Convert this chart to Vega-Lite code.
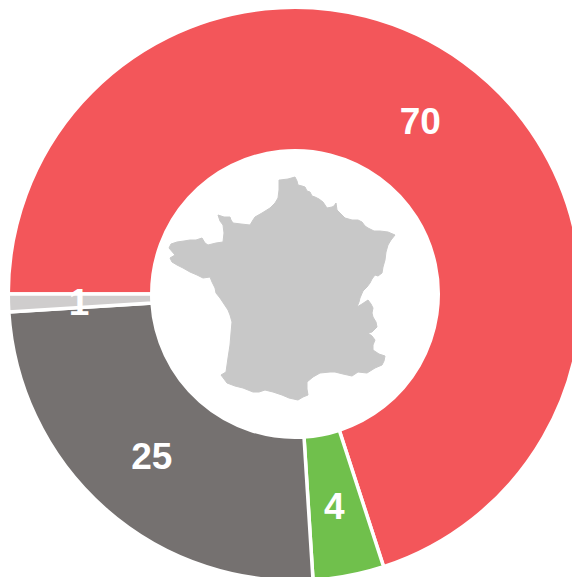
{"$schema":"https://vega.github.io/schema/vega-lite/v6.json","width":572,"height":577,"padding":0,"autosize":"none","background":"white","view":{"stroke":null},
"layer":[
{"data":{"name":"slices","values":[{"party":"Rouge","value":70,"rank":1},{"party":"Vert","value":4,"rank":2},{"party":"Gris","value":25,"rank":3},{"party":"Autre","value":1,"rank":4}]},
"layer":[
{"mark":{"type":"arc","radius":286.75,"radius2":143.25,"stroke":"white","strokeWidth":3.5},
"encoding":{"x":{"datum":295,"type":"quantitative","scale":{"domain":[0,572],"range":[0,572]},"axis":null},"y":{"datum":294,"type":"quantitative","scale":{"domain":[0,577],"range":[0,577]},"axis":null},
"theta":{"field":"value","type":"quantitative","stack":true,"scale":{"domain":[0,100],"range":[4.71239,10.99557]}},
"order":{"field":"rank","type":"ordinal"},
"color":{"field":"party","type":"nominal","legend":null,"scale":{"domain":["Rouge","Vert","Gris","Autre"],"range":["#F3565A","#70C04C","#757170","#CFCDCD"]}}}},
{"mark":{"type":"text","radius":215,"dx":-1,"dy":3,"font":"Liberation Sans","fontWeight":"bold","fontSize":37,"fill":"white","align":"center","baseline":"middle"},
"encoding":{"x":{"datum":295,"type":"quantitative","scale":{"domain":[0,572],"range":[0,572]},"axis":null},"y":{"datum":294,"type":"quantitative","scale":{"domain":[0,577],"range":[0,577]},"axis":null},
"theta":{"field":"value","type":"quantitative","stack":true,"scale":{"domain":[0,100],"range":[4.71239,10.99557]}},
"order":{"field":"rank","type":"ordinal"},
"text":{"field":"value","type":"quantitative"}}}
]},
{"data":{"name":"france","values":[
{"i":1,"px":280,"py":180},{"i":2,"px":288,"py":179},{"i":3,"px":295,"py":177},{"i":4,"px":297,"py":181},{"i":5,"px":298,"py":185},{"i":6,"px":302,"py":186},{"i":7,"px":305,"py":187},{"i":8,"px":307,"py":191},{"i":9,"px":310,"py":192},{"i":10,"px":312,"py":196},{"i":11,"px":315,"py":197},{"i":12,"px":319,"py":199},{"i":13,"px":323,"py":202},{"i":14,"px":325,"py":205},{"i":15,"px":327,"py":208},{"i":16,"px":332,"py":207},{"i":17,"px":334,"py":206},{"i":18,"px":336,"py":203},{"i":19,"px":337,"py":210},{"i":20,"px":341,"py":214},{"i":21,"px":345,"py":218},{"i":22,"px":352,"py":220},{"i":23,"px":358,"py":220},{"i":24,"px":362,"py":222},{"i":25,"px":365,"py":226},{"i":26,"px":368,"py":228},{"i":27,"px":374,"py":231},{"i":28,"px":380,"py":231},{"i":29,"px":388,"py":232},{"i":30,"px":395,"py":235},{"i":31,"px":391,"py":240},{"i":32,"px":388,"py":245},{"i":33,"px":386,"py":252},{"i":34,"px":385,"py":260},{"i":35,"px":383,"py":267},{"i":36,"px":382,"py":273},{"i":37,"px":378,"py":276},{"i":38,"px":375,"py":275},{"i":39,"px":372,"py":279},{"i":40,"px":370,"py":283},{"i":41,"px":367,"py":287},{"i":42,"px":363,"py":291},{"i":43,"px":360,"py":298},{"i":44,"px":359,"py":302},{"i":45,"px":357,"py":307},{"i":46,"px":362,"py":304},{"i":47,"px":368,"py":300},{"i":48,"px":371,"py":304},{"i":49,"px":373,"py":308},{"i":50,"px":372,"py":313},{"i":51,"px":373,"py":317},{"i":52,"px":376,"py":322},{"i":53,"px":377,"py":327},{"i":54,"px":372,"py":332},{"i":55,"px":368,"py":333},{"i":56,"px":372,"py":336},{"i":57,"px":375,"py":340},{"i":58,"px":373,"py":345},{"i":59,"px":373,"py":350},{"i":60,"px":379,"py":354},{"i":61,"px":385,"py":356},{"i":62,"px":384,"py":361},{"i":63,"px":382,"py":365},{"i":64,"px":375,"py":368},{"i":65,"px":367,"py":373},{"i":66,"px":358,"py":372},{"i":67,"px":352,"py":376},{"i":68,"px":343,"py":374},{"i":69,"px":335,"py":372},{"i":70,"px":330,"py":372},{"i":71,"px":320,"py":373},{"i":72,"px":313,"py":377},{"i":73,"px":307,"py":382},{"i":74,"px":307,"py":389},{"i":75,"px":308,"py":395},{"i":76,"px":303,"py":397},{"i":77,"px":298,"py":400},{"i":78,"px":289,"py":398},{"i":79,"px":282,"py":395},{"i":80,"px":273,"py":392},{"i":81,"px":265,"py":390},{"i":82,"px":259,"py":392},{"i":83,"px":253,"py":392},{"i":84,"px":243,"py":388},{"i":85,"px":235,"py":386},{"i":86,"px":227,"py":383},{"i":87,"px":221,"py":375},{"i":88,"px":226,"py":372},{"i":89,"px":228,"py":358},{"i":90,"px":230,"py":345},{"i":91,"px":231,"py":333},{"i":92,"px":232,"py":322},{"i":93,"px":230,"py":315},{"i":94,"px":228,"py":310},{"i":95,"px":224,"py":304},{"i":96,"px":220,"py":298},{"i":97,"px":216,"py":293},{"i":98,"px":215,"py":288},{"i":99,"px":212,"py":282},{"i":100,"px":210,"py":277},{"i":101,"px":203,"py":278},{"i":102,"px":197,"py":275},{"i":103,"px":190,"py":272},{"i":104,"px":183,"py":268},{"i":105,"px":177,"py":265},{"i":106,"px":172,"py":262},{"i":107,"px":170,"py":258},{"i":108,"px":175,"py":255},{"i":109,"px":169,"py":248},{"i":110,"px":171,"py":244},{"i":111,"px":177,"py":242},{"i":112,"px":184,"py":241},{"i":113,"px":190,"py":240},{"i":114,"px":196,"py":240},{"i":115,"px":202,"py":238},{"i":116,"px":205,"py":243},{"i":117,"px":208,"py":245},{"i":118,"px":216,"py":243},{"i":119,"px":223,"py":242},{"i":120,"px":224,"py":233},{"i":121,"px":223,"py":225},{"i":122,"px":220,"py":221},{"i":123,"px":218,"py":215},{"i":124,"px":224,"py":217},{"i":125,"px":230,"py":217},{"i":126,"px":231,"py":220},{"i":127,"px":233,"py":223},{"i":128,"px":241,"py":224},{"i":129,"px":250,"py":225},{"i":130,"px":253,"py":220},{"i":131,"px":255,"py":217},{"i":132,"px":262,"py":213},{"i":133,"px":270,"py":208},{"i":134,"px":275,"py":203},{"i":135,"px":278,"py":198},{"i":136,"px":279,"py":190},{"i":137,"px":279,"py":180},{"i":138,"px":280,"py":180}
]},
"mark":{"type":"line","fill":"#C8C8C8","stroke":"#C8C8C8","strokeWidth":1,"interpolate":"linear"},
"encoding":{"x":{"field":"px","type":"quantitative","scale":{"domain":[0,572],"range":[0,572]},"axis":null},"y":{"field":"py","type":"quantitative","scale":{"domain":[0,577],"range":[0,577]},"axis":null},"order":{"field":"i","type":"quantitative"}}}
]}
